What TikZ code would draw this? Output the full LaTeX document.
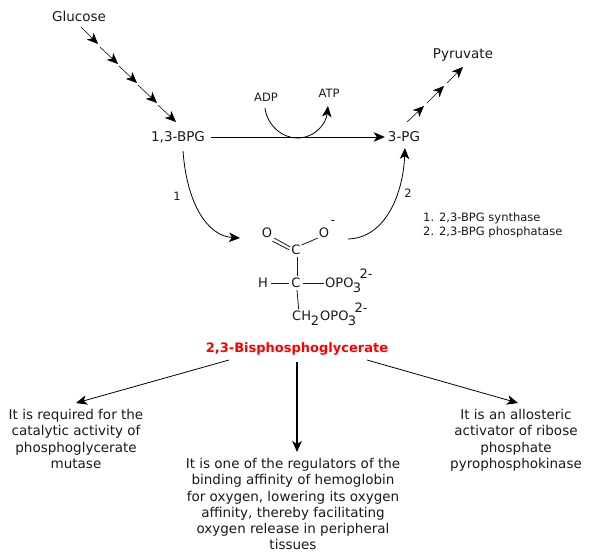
\documentclass[tikz,border=0pt]{standalone}
\usepackage{fontspec}
\setmainfont{DejaVu Sans}
\usetikzlibrary{arrows.meta,calc}
\tikzset{
 lbl/.style={inner sep=0pt,font=\fontsize{13.5}{16.3}\selectfont,text=black!90},
 smalllbl/.style={inner sep=0pt,font=\fontsize{11.5}{14}\selectfont,text=black!90},
 chem/.style={inner sep=0pt,font=\fontsize{13}{15}\selectfont,text=black!90},
 para/.style={lbl,align=center,anchor=north},
 rx/.style={draw=black,line width=.8pt,-{Stealth[length=11pt,width=9.5pt,inset=3pt]}},
 thin rx/.style={rx,line width=.55pt},
 bond/.style={draw=black!90,line width=.8pt},
}
\begin{document}
\begin{tikzpicture}[x=1pt,y=-1pt]
\useasboundingbox (0,0) rectangle (590,558);
\node[lbl] (glu) at (79,16) {Glucose};
\node[lbl] (bpg13) at (178,137) {1,3-BPG};
\node[lbl] (pg3) at (404,137) {3-PG};
\node[smalllbl] (adp) at (266,97) {ADP};
\node[smalllbl] (atp) at (329,93) {ATP};
\node[lbl] (pyr) at (463,55) {Pyruvate};
\node[smalllbl] at (177,196) {1};
\node[smalllbl] at (408,193) {2};
\node[smalllbl,anchor=west] at (423,218) {1. 2,3-BPG synthase};
\node[smalllbl,anchor=west] at (423,232) {2. 2,3-BPG phosphatase};
% glucose chain
\coordinate (g0) at (81,27);
\coordinate (g1a) at (98,44); \coordinate (g1b) at (100,47);
\coordinate (g2a) at (118,64); \coordinate (g2b) at (119,66);
\coordinate (g3a) at (137,83); \coordinate (g3b) at (138,85);
\coordinate (g4a) at (157,103); \coordinate (g4b) at (158,105);
\coordinate (g5a) at (176,122);
\draw[thin rx] (g0)--(g1a);
\draw[thin rx] (g1b)--(g2a);
\draw[thin rx] (g2b)--(g3a);
\draw[thin rx] (g3b)--(g4a);
\draw[thin rx] (g4b)--(g5a);
% pyruvate chain
\coordinate (p0) at (407,122);
\coordinate (p1a) at (424,106); \coordinate (p1b) at (427,103);
\coordinate (p2a) at (444,86); \coordinate (p2b) at (447,83);
\coordinate (p3a) at (463,67);
\draw[thin rx] (p0)--(p1a);
\draw[thin rx] (p1b)--(p2a);
\draw[thin rx] (p2b)--(p3a);
% main
\draw[rx] ($(bpg13.east)+(6,0)$) -- ($(pg3.west)+(-3,0)$);
\coordinate (adpe) at (265,108);
\coordinate (atpe) at (328,106);
\coordinate (cup) at (297,138);
\draw[rx] (adpe) .. controls (267,125) and (282,138) .. (cup) .. controls (315,138) and (326,124) .. (atpe);
\coordinate (mol) at (240,238);
\coordinate (molr) at (348,239);
\draw[rx] (183,151) .. controls (187,205) and (208,236) .. (mol);
\draw[rx] (molr) .. controls (385,238) and (403,195) .. (405,148);
% structure
\node[chem] (o1) at (267,233) {O};
\node[chem] (c1) at (296,250) {C};
\node[chem] (o2) at (324,233) {O};
\node[chem] at (333,222) {-};
\node[chem] (c2) at (296,283) {C};
\node[chem] (h) at (263,283) {H};
\node[chem,anchor=west] (op1) at (325,283) {OPO};
\node[chem] at (357,288) {3};
\node[chem] at (366,274) {2-};
\node[chem,anchor=west] (ch) at (292,316) {CH};
\node[chem] at (315,321) {2};
\node[chem,anchor=west] at (320,316) {OPO};
\node[chem] at (352,321) {3};
\node[chem] at (361,308) {2-};
\draw[bond] ($(o1.south east)+(2,0)$) -- ($(c1.north west)+(-1,2)$);
\draw[bond] ($(o1.south east)+(0,3)$) -- ($(c1.north west)+(-2,5)$);
\draw[bond] ($(c1.north east)+(1,0)$) -- ($(o2.south west)+(-1,0)$);
\draw[bond] ($(c1.south)+(1,2)$) -- ($(c2.north)+(1,-2)$);
\draw[bond] ($(h.east)+(3,0)$) -- ($(c2.west)+(-2,0)$);
\draw[bond] ($(c2.east)+(2,0)$) -- ($(op1.west)+(-1,0)$);
\draw[bond] ($(c2.south)+(1,2)$) -- ($(ch.north)+(-3,-2)$);
% title
\node[inner sep=0pt,font=\fontsize{13}{16}\selectfont\bfseries,text=red] (t) at (297,349) {2,3-Bisphosphoglycerate};
\node[para] (a) at (76,409) {It is required for the\\catalytic activity of\\phosphoglycerate\\mutase};
\node[para] (b) at (293,458) {It is one of the regulators of the\\binding affinity of hemoglobin\\for oxygen, lowering its oxygen\\affinity, thereby facilitating\\oxygen release in peripheral\\tissues};
\node[para] (c) at (516,409) {It is an allosteric\\activator of ribose\\phosphate\\pyrophosphokinase};
\draw[rx] (229,360) -- (76,403);
\draw[rx,line width=1.8pt] (297,362) -- (297,452);
\draw[rx] (367,360) -- (518,403);
\end{tikzpicture}
\end{document}
